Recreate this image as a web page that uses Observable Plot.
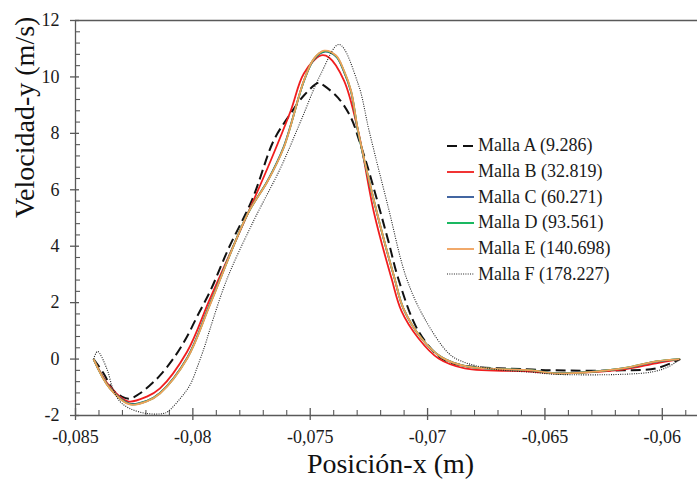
<!DOCTYPE html>
<html><head><meta charset="utf-8">
<script src="https://cdn.jsdelivr.net/npm/d3@7"></script>
<script src="https://cdn.jsdelivr.net/npm/@observablehq/plot@0.6"></script>
<style>
html, body { margin:0; padding:0; background:#fff; }
#wrap, #wrap * , #wrap svg text { font-family: 'Liberation Serif' !important; }
</style>
</head><body style="font-family:'Liberation Serif'">
<div id="wrap" style="position:relative;width:698px;height:479px;font-family:'Liberation Serif'"><div id="legend" style="position:absolute;left:447px;top:133px;font-size:18px;color:#1a1a1a;font-family:'Liberation Serif'"></div></div>
<script>
// ---- data ----
const seriesNames = ["Malla A (9.286)","Malla B (32.819)","Malla C (60.271)","Malla D (93.561)","Malla E (140.698)","Malla F (178.227)"];

const xA = [-0.08423,-0.0838,-0.08341,-0.08303,-0.08269,-0.08226,-0.08183,-0.0814,-0.08076,-0.08024,-0.07977,-0.07926,-0.07849,-0.07746,-0.07656,-0.07596,-0.07527,-0.07463,-0.07441,-0.07381,-0.07326,-0.07291,-0.07253,-0.07167,-0.07124,-0.07039,-0.0694,-0.06854,-0.06554,-0.06456,-0.06169,-0.06027,-0.05924];
const yA = [0,-0.51,-1.08,-1.33,-1.40,-1.22,-0.93,-0.58,0.10,0.81,1.59,2.41,3.90,5.68,7.74,8.55,9.34,9.80,9.69,9.26,8.55,7.74,6.74,4.18,2.83,0.99,0.02,-0.22,-0.37,-0.40,-0.40,-0.33,0];

const xB = [-0.08423,-0.08354,-0.08277,-0.08196,-0.0814,-0.08024,-0.07926,-0.07767,-0.07669,-0.07583,-0.07527,-0.07454,-0.0742,-0.07356,-0.07296,-0.07227,-0.07154,-0.07111,-0.07039,-0.06953,-0.06841,-0.06554,-0.06456,-0.06169,-0.06027,-0.05924];
const yB = [0,-0.97,-1.50,-1.33,-1.04,0.27,2.16,5.14,7.02,8.80,10.12,10.76,10.69,9.87,8.09,5.14,2.87,1.70,0.74,0.02,-0.33,-0.44,-0.51,-0.37,-0.15,0];

const xCDE = [-0.08423,-0.08354,-0.08269,-0.08196,-0.0814,-0.08024,-0.07926,-0.07767,-0.07681,-0.07613,-0.07527,-0.07484,-0.07441,-0.0739,-0.07356,-0.07326,-0.07296,-0.07214,-0.07141,-0.07103,-0.07026,-0.0694,-0.06833,-0.06554,-0.06456,-0.06169,-0.06027,-0.05924];
const yC = [0,-1.02,-1.58,-1.48,-1.20,0.05,1.98,5.14,6.33,7.52,9.85,10.62,10.89,10.72,10.18,9.47,8.05,5.12,2.86,1.79,0.74,0.06,-0.26,-0.40,-0.50,-0.33,-0.09,0];
const yD = [0,-1.03,-1.60,-1.49,-1.21,0.03,1.96,5.14,6.32,7.50,9.86,10.64,10.91,10.74,10.20,9.49,8.07,5.13,2.87,1.80,0.74,0.06,-0.26,-0.40,-0.51,-0.33,-0.08,0];
const yE = [0,-1.04,-1.61,-1.50,-1.22,0.02,1.94,5.14,6.31,7.49,9.87,10.65,10.93,10.76,10.22,9.51,8.09,5.14,2.87,1.80,0.74,0.06,-0.26,-0.40,-0.51,-0.33,-0.08,0];

const xF = [-0.08423,-0.08406,-0.08367,-0.08341,-0.08311,-0.08269,-0.08196,-0.08127,-0.08106,-0.08054,-0.08011,-0.07977,-0.07947,-0.07926,-0.07853,-0.07741,-0.07626,-0.0754,-0.07454,-0.07377,-0.07296,-0.07249,-0.07167,-0.0709,-0.07013,-0.0691,-0.06854,-0.06726,-0.06554,-0.06456,-0.06169,-0.0604,-0.05976,-0.05924];
const yF = [0,0.27,-0.33,-1.04,-1.50,-1.75,-1.93,-1.93,-1.86,-1.40,-0.90,-0.19,0.52,1.09,2.87,4.90,6.78,8.44,10.12,11.15,9.76,8.09,5.36,2.87,1.44,0.20,-0.08,-0.35,-0.47,-0.54,-0.54,-0.45,-0.28,0];

const xTicks = [-0.085,-0.08,-0.075,-0.07,-0.065,-0.06];
const yTicks = [-2,0,2,4,6,8,10,12];
const xTitle = "Posición-x (m)";
const yTitle = "Velocidad-y (m/s)";

// ---- styles ----
const styles = [
  {stroke:"#111", strokeWidth:2, dash:"10,5"},
  {stroke:"#f01e1e", strokeWidth:1.8, dash:null},
  {stroke:"#2e5597", strokeWidth:1.8, dash:null},
  {stroke:"#00b050", strokeWidth:1.8, dash:null},
  {stroke:"#f0a05a", strokeWidth:1.8, dash:null},
  {stroke:"#222", strokeWidth:1.1, dash:"1,1.3"}
];
const xsArr = [xA, xB, xCDE, xCDE, xCDE, xF];
const ysArr = [yA, yB, yC, yD, yE, yF];

const seriesData = seriesNames.map((name, i) => xsArr[i].map((x, j) => ({serie: name, x, y: ysArr[i][j]})));

const gray = "#595959";
const serif = "Liberation Serif";
const fmt = d => String(d).replace(".", ",");
const xMinor = d3.range(-0.085, -0.0585, 0.001).map(v => +v.toFixed(3)).filter(v => !xTicks.some(t => Math.abs(t - v) < 1e-6));
const yMinor = d3.range(-2, 12.001, 0.4).map(v => +v.toFixed(1)).filter(v => !yTicks.some(t => Math.abs(t - v) < 1e-6));

const lineMarks = [0, 1, 2, 3, 4, 5].map(i => Plot.line(seriesData[i], {
  x: "x", y: "y", curve: "catmull-rom",
  stroke: styles[i].stroke, strokeWidth: styles[i].strokeWidth,
  strokeDasharray: styles[i].dash, strokeLinecap: "butt", strokeLinejoin: "round"
}));

const chart = Plot.plot({
  width: 698, height: 479,
  marginLeft: 75, marginRight: 1, marginTop: 20, marginBottom: 64,
  style: {fontFamily: serif, fontSize: "18px", color: "#1a1a1a", background: "white"},
  x: {domain: [-0.085, -0.0585]},
  y: {domain: [-2, 12]},
  marks: [
    Plot.ruleY([12], {stroke: gray, strokeWidth: 1.3}),
    Plot.ruleX([-0.085], {stroke: gray, strokeWidth: 1.3}),
    Plot.ruleY([-2], {stroke: gray, strokeWidth: 1.3}),
    Plot.axisX({ticks: xTicks, tickSize: 5, tickPadding: 10, tickFormat: fmt, fontSize: 18, fontFamily: serif, label: null, stroke: gray, fill: "#1a1a1a", strokeWidth: 1.3}),
    Plot.axisX({ticks: xTicks, tickSize: -7, tickFormat: () => "", label: null, stroke: gray, strokeWidth: 1.3}),
    Plot.axisX({ticks: xMinor, tickSize: -5, tickFormat: () => "", label: null, stroke: gray, strokeWidth: 1.1}),
    Plot.axisY({ticks: yTicks, tickSize: 5, tickPadding: 11, tickFormat: fmt, fontSize: 18, fontFamily: serif, label: null, stroke: gray, fill: "#1a1a1a", strokeWidth: 1.3}),
    Plot.axisY({ticks: yTicks, tickSize: -4, tickFormat: () => "", label: null, stroke: gray, strokeWidth: 1.3}),
    Plot.axisY({ticks: yMinor, tickSize: -5, tickFormat: () => "", label: null, stroke: gray, strokeWidth: 1.1}),
    ...lineMarks,
    Plot.text([xTitle], {text: d => d, frameAnchor: "bottom", dx: 4, dy: 57, lineAnchor: "bottom", fontSize: 28, fontFamily: serif, fill: "#111"}),
    Plot.text([yTitle], {text: d => d, frameAnchor: "left", dx: -42, rotate: -90, lineAnchor: "bottom", fontSize: 28, fontFamily: serif, fill: "#111"})
  ]
});
document.getElementById("wrap").prepend(chart);
chart.querySelectorAll("text, g").forEach(el => el.style.setProperty("font-family", "'Liberation Serif'", "important"));

// ---- legend ----
const legend = document.getElementById("legend");
seriesNames.forEach((name, i) => {
  const row = document.createElement("div");
  row.setAttribute("style", "display:flex;align-items:center;height:25.7px;white-space:nowrap;font-family:'Liberation Serif';font-size:18px");
  const s = styles[i];
  row.innerHTML = `<svg width="27" height="6" style="margin-right:4px;display:block"><line x1="0" x2="27" y1="3" y2="3" stroke="${s.stroke}" stroke-width="${s.strokeWidth}" ${s.dash ? `stroke-dasharray="${i===0 ? '10,6' : s.dash}"` : ""}/></svg><span style="font-family:'Liberation Serif'">${name}</span>`;
  legend.appendChild(row);
});
</script>
</body></html>
